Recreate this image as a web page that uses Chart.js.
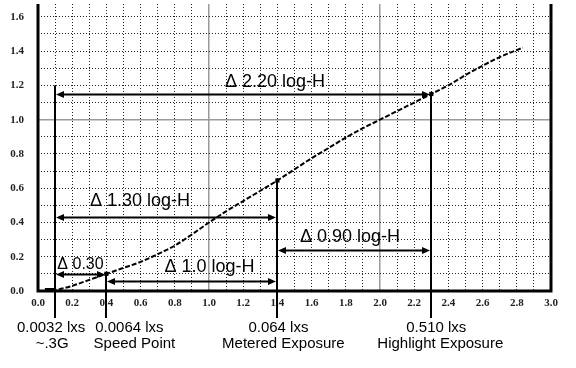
<!DOCTYPE html>
<html>
<head>
<meta charset="utf-8">
<script src="https://cdn.jsdelivr.net/npm/chart.js@4.4.0/dist/chart.umd.min.js"></script>
<style>
  body { margin: 0; background: #fff; }
  canvas { display: block; }
</style>
</head>
<body>
<canvas id="curveChart" width="576" height="368"></canvas>
<script>
// characteristic curve
const logH = [0.04, 0.1, 0.2, 0.3, 0.4, 0.5, 0.6, 0.7, 0.8, 0.9, 1.0, 1.1, 1.2, 1.3, 1.4, 1.5, 1.6, 1.7, 1.8, 1.9, 2.0, 2.1, 2.2, 2.3, 2.4, 2.5, 2.6, 2.7, 2.835];
const density = [0.0, 0.005, 0.03, 0.065, 0.1, 0.135, 0.17, 0.215, 0.265, 0.33, 0.4, 0.465, 0.525, 0.585, 0.645, 0.71, 0.775, 0.835, 0.895, 0.95, 1.0, 1.05, 1.1, 1.15, 1.2, 1.26, 1.315, 1.365, 1.42];

// marked points on the curve
const markLogH = [0.4, 1.4, 2.3];
const markDensity = [0.1, 0.645, 1.15];

// vertical guides and the text under them
const guideLogH = [0.1, 0.4, 1.4, 2.3];
const guideTop = [1.2, 0.1, 0.645, 1.15];
const guideLux = ['0.0032 lxs', '0.0064 lxs', '0.064 lxs', '0.510 lxs'];
const guideName = ['~.3G', 'Speed Point', 'Metered Exposure', 'Highlight Exposure'];

// dimension arrows
const spanFrom = [0.1, 0.1, 0.1, 0.4, 1.4];
const spanTo = [2.3, 1.4, 0.4, 1.4, 2.3];
const spanLevel = [1.15, 0.43, 0.1, 0.06, 0.24];
const spanLabel = ['Δ 2.20 log-H', 'Δ 1.30 log-H', 'Δ 0.30', 'Δ 1.0 log-H', 'Δ 0.90 log-H'];

// label placement tweaks (pixels)
const spanShift = [32, -26, 0, 18, -4];
const spanLift = [14, 18, 12, 16, 15];
const spanFont = [18, 18, 16, 18, 18];
const luxShift = [-4, 23, 1, 5];
const nameShift = [-3, 28, 6, 9];

const near = (a, b) => Math.abs(a - b) < 1e-6;

function arrowHead(ctx, x, y, dir) {
    ctx.beginPath();
    ctx.moveTo(x, y);
    ctx.lineTo(x - dir * 8, y - 3.5);
    ctx.lineTo(x - dir * 8, y + 3.5);
    ctx.closePath();
    ctx.fill();
}

const framePlugin = {
    id: 'frame',
    beforeDatasetsDraw(chart) {
        const { ctx, chartArea: a, scales: { x, y } } = chart;
        ctx.save();
        ctx.strokeStyle = '#000';
        ctx.lineWidth = 3;
        ctx.beginPath();
        ctx.moveTo(a.left, a.top);
        ctx.lineTo(a.left, a.bottom);
        ctx.lineTo(a.right, a.bottom);
        ctx.lineTo(a.right, a.top);
        ctx.stroke();
        // toe of the curve sits on the base line
        ctx.lineWidth = 4;
        ctx.beginPath();
        ctx.moveTo(x.getPixelForValue(logH[0]), a.bottom - 1);
        ctx.lineTo(x.getPixelForValue(logH[1]), a.bottom - 1);
        ctx.stroke();
        ctx.restore();
    },
    afterDatasetsDraw(chart) {
        const { ctx, chartArea: a, scales: { x, y } } = chart;
        ctx.save();
        ctx.strokeStyle = '#000';
        ctx.fillStyle = '#000';

        // vertical guides
        ctx.lineWidth = 2;
        guideLogH.forEach((v, i) => {
            const px = Math.round(x.getPixelForValue(v));
            ctx.beginPath();
            ctx.moveTo(px, y.getPixelForValue(guideTop[i]));
            ctx.lineTo(px, a.bottom + 27);
            ctx.stroke();
        });

        // arrows
        spanFrom.forEach((v, i) => {
            const x1 = Math.round(x.getPixelForValue(v)) + 1;
            const x2 = Math.round(x.getPixelForValue(spanTo[i])) - 1;
            const py = Math.round(y.getPixelForValue(spanLevel[i])) + 0.5;
            ctx.lineWidth = 2;
            ctx.beginPath();
            ctx.moveTo(x1 + 4, py);
            ctx.lineTo(x2 - 4, py);
            ctx.stroke();
            arrowHead(ctx, x1, py, -1);
            arrowHead(ctx, x2, py, 1);

            ctx.font = spanFont[i] + 'px "Liberation Sans", Arial, sans-serif';
            ctx.textAlign = 'center';
            ctx.textBaseline = 'alphabetic';
            ctx.fillText(spanLabel[i], (x1 + x2) / 2 + spanShift[i], py - spanLift[i] + 6);
        });

        // text under the axis
        ctx.font = '15px "Liberation Sans", Arial, sans-serif';
        ctx.textAlign = 'center';
        ctx.textBaseline = 'middle';
        guideLogH.forEach((v, i) => {
            const px = x.getPixelForValue(v);
            ctx.fillText(guideLux[i], px + luxShift[i], a.bottom + 37);
            ctx.fillText(guideName[i], px + nameShift[i], a.bottom + 53);
        });
        ctx.restore();
    }
};

const tickFont = { family: '"Liberation Serif", serif', size: 11, weight: 'bold' };

new Chart(document.getElementById('curveChart'), {
    type: 'line',
    data: {
        datasets: [
            {
                data: logH.map((v, i) => ({ x: v, y: density[i] })),
                borderColor: '#000',
                borderWidth: 2,
                borderDash: [5, 2],
                pointRadius: 0,
                cubicInterpolationMode: 'monotone',
                fill: false,
            },
            {
                type: 'scatter',
                data: markLogH.map((v, i) => ({ x: v, y: markDensity[i] })),
                pointStyle: 'rect',
                pointRadius: 3,
                backgroundColor: '#000',
                borderColor: '#000',
                borderWidth: 0,
            },
        ],
    },
    options: {
        responsive: false,
        animation: false,
        layout: { padding: { left: 0, right: 25, top: 0, bottom: 0 } },
        plugins: {
            legend: { display: false },
            tooltip: { enabled: false },
        },
        scales: {
            x: {
                type: 'linear',
                min: 0,
                max: 3,
                afterFit(scale) {
                    scale.height = 77;
                    scale.paddingLeft = 0;
                    scale.paddingRight = 0;
                },
                ticks: {
                    stepSize: 0.1,
                    autoSkip: false,
                    maxRotation: 0,
                    padding: 6,
                    color: '#222',
                    font: tickFont,
                    callback: (v) => (Math.round(v * 10) % 2 === 0 ? Number(v).toFixed(1) : ''),
                },
                grid: {
                    drawTicks: false,
                    color: (c) => (c.tick && (near(c.tick.value, 1) || near(c.tick.value, 2)) ? '#9a9a9a' : '#222'),
                    lineWidth: (c) => (c.tick && (near(c.tick.value, 1) || near(c.tick.value, 2)) ? 1.5 : 1),
                },
                border: {
                    display: false,
                    dash: (c) => (c.tick && (near(c.tick.value, 1) || near(c.tick.value, 2)) ? [] : [1, 2]),
                },
            },
            y: {
                type: 'linear',
                min: 0,
                max: 1.675,
                afterFit(scale) {
                    scale.width = 38;
                    scale.paddingTop = 0;
                    scale.paddingBottom = 0;
                },
                ticks: {
                    stepSize: 0.1,
                    includeBounds: false,
                    autoSkip: false,
                    padding: 14,
                    color: '#222',
                    font: tickFont,
                    callback: (v) => (Math.round(v * 10) % 2 === 0 ? Number(v).toFixed(1) : ''),
                },
                grid: {
                    drawTicks: false,
                    color: (c) => (c.tick && near(c.tick.value, 1) ? '#9a9a9a' : '#222'),
                    lineWidth: (c) => (c.tick && near(c.tick.value, 1) ? 1.5 : 1),
                },
                border: {
                    display: false,
                    dash: (c) => (c.tick && near(c.tick.value, 1) ? [] : [1, 2]),
                },
            },
        },
    },
    plugins: [framePlugin],
});
</script>
</body>
</html>
